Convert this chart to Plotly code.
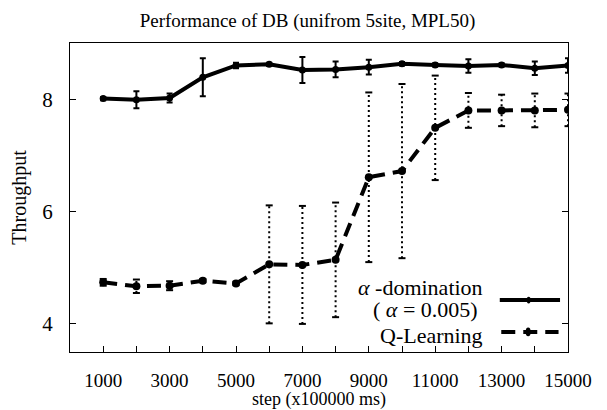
import plotly.graph_objects as go

steps = [1000, 2000, 3000, 4000, 5000, 6000, 7000, 8000, 9000, 10000, 11000, 12000, 13000, 14000, 15000]
alpha_dom = [8.01, 7.99, 8.02, 8.39, 8.60, 8.62, 8.52, 8.53, 8.57, 8.63, 8.61, 8.59, 8.61, 8.55, 8.60]
alpha_err = [0.03, 0.15, 0.08, 0.34, 0.05, 0.03, 0.23, 0.14, 0.13, 0.03, 0.03, 0.12, 0.03, 0.12, 0.13]
qlearn = [4.74, 4.67, 4.68, 4.77, 4.72, 5.06, 5.05, 5.14, 6.61, 6.72, 7.49, 7.80, 7.80, 7.80, 7.81]
qlearn_err = [0.06, 0.12, 0.08, 0.03, 0.03, 1.05, 1.05, 1.02, 1.51, 1.55, 0.93, 0.31, 0.28, 0.30, 0.29]

x_tickvals = [0, 1000, 2000, 3000, 4000, 5000, 6000, 7000, 8000, 9000, 10000, 11000, 12000, 13000, 14000, 15000]
x_ticktext = ["", "1000", "", "3000", "", "5000", "", "7000", "", "9000", "", "11000", "", "13000", "", "15000"]
y_tickvals = [4, 6, 8]

title = "Performance of DB (unifrom 5site, MPL50)"
label_a1 = "<i>α</i> -domination"
label_a2 = "( <i>α</i> = 0.005)"
label_q = "Q-Learning"

FONT = "Liberation Serif, DejaVu Serif, Times New Roman, serif"

fig = go.Figure()

# dotted error bars for Q-Learning
ex, ey = [], []
for s, v, e in zip(steps, qlearn, qlearn_err):
    ex += [s, s, None]
    ey += [v - e, v + e, None]
fig.add_trace(go.Scatter(
    x=ex, y=ey, mode="lines+markers",
    line=dict(color="black", width=2, dash="2px,3px"),
    marker=dict(symbol="line-ew-open", size=5, line=dict(color="black", width=2)),
    showlegend=False, hoverinfo="skip"))

fig.add_trace(go.Scatter(
    x=steps, y=qlearn, mode="lines+markers", name="Q-Learning",
    line=dict(color="black", width=4, dash="14px,8px"),
    marker=dict(symbol="circle", size=8, color="black"),
    showlegend=False))

fig.add_trace(go.Scatter(
    x=steps, y=alpha_dom, mode="lines+markers", name="alpha-domination",
    line=dict(color="black", width=4),
    marker=dict(symbol="circle", size=7, color="black"),
    error_y=dict(type="data", array=alpha_err, visible=True, color="black", thickness=2, width=3),
    showlegend=False))

# manual legend (text left of sample, like the original)
fig.add_annotation(x=0.833, y=0.208, xref="paper", yref="paper", text=label_a1,
                   showarrow=False, xanchor="right", yanchor="middle", font=dict(size=22, family=FONT, color="black"))
fig.add_annotation(x=0.823, y=0.139, xref="paper", yref="paper", text=label_a2,
                   showarrow=False, xanchor="right", yanchor="middle", font=dict(size=22, family=FONT, color="black"))
fig.add_annotation(x=0.833, y=0.055, xref="paper", yref="paper", text=label_q,
                   showarrow=False, xanchor="right", yanchor="middle", font=dict(size=22, family=FONT, color="black"))
fig.add_shape(type="line", xref="paper", yref="paper", x0=0.863, x1=0.984, y0=0.168, y1=0.168,
              line=dict(color="black", width=4))
fig.add_shape(type="circle", xref="paper", yref="paper", x0=0.917, x1=0.925, y0=0.157, y1=0.179,
              fillcolor="black", line=dict(color="black", width=0))
fig.add_shape(type="line", xref="paper", yref="paper", x0=0.866, x1=0.981, y0=0.065, y1=0.065,
              line=dict(color="black", width=4, dash="14px,8px"))
fig.add_shape(type="circle", xref="paper", yref="paper", x0=0.915, x1=0.925, y0=0.051, y1=0.079,
              fillcolor="black", line=dict(color="black", width=0))

fig.update_layout(
    width=599, height=402,
    margin=dict(l=62, r=39, t=35, b=58),
    paper_bgcolor="white", plot_bgcolor="white",
    font=dict(family=FONT, size=18, color="black"),
    title=dict(text=title, x=0.5, xanchor="center", y=0.97, yanchor="middle",
               font=dict(size=19, family=FONT, color="black")),
    showlegend=False,
)
fig.update_xaxes(
    range=[0, 15000], tickmode="array", tickvals=x_tickvals, ticktext=x_ticktext,
    ticks="inside", ticklen=6, tickcolor="black", showline=True, linecolor="black", linewidth=1,
    mirror=True, showgrid=False, zeroline=False, ticklabelstandoff=11,
    tickfont=dict(size=19, family=FONT),
    title=dict(text="step (x100000 ms)", standoff=0, font=dict(size=18, family=FONT)),
    automargin=False,
)
fig.update_yaxes(
    range=[3.5, 9], tickmode="array", tickvals=y_tickvals,
    ticks="inside", ticklen=6, tickcolor="black", showline=True, linecolor="black", linewidth=1,
    mirror="ticks", showgrid=False, zeroline=False, ticklabelstandoff=12,
    tickfont=dict(size=21, family=FONT),
    title=dict(text="Throughput", standoff=12, font=dict(size=20, family=FONT)),
    automargin=False,
)

fig.write_html("out.html")
